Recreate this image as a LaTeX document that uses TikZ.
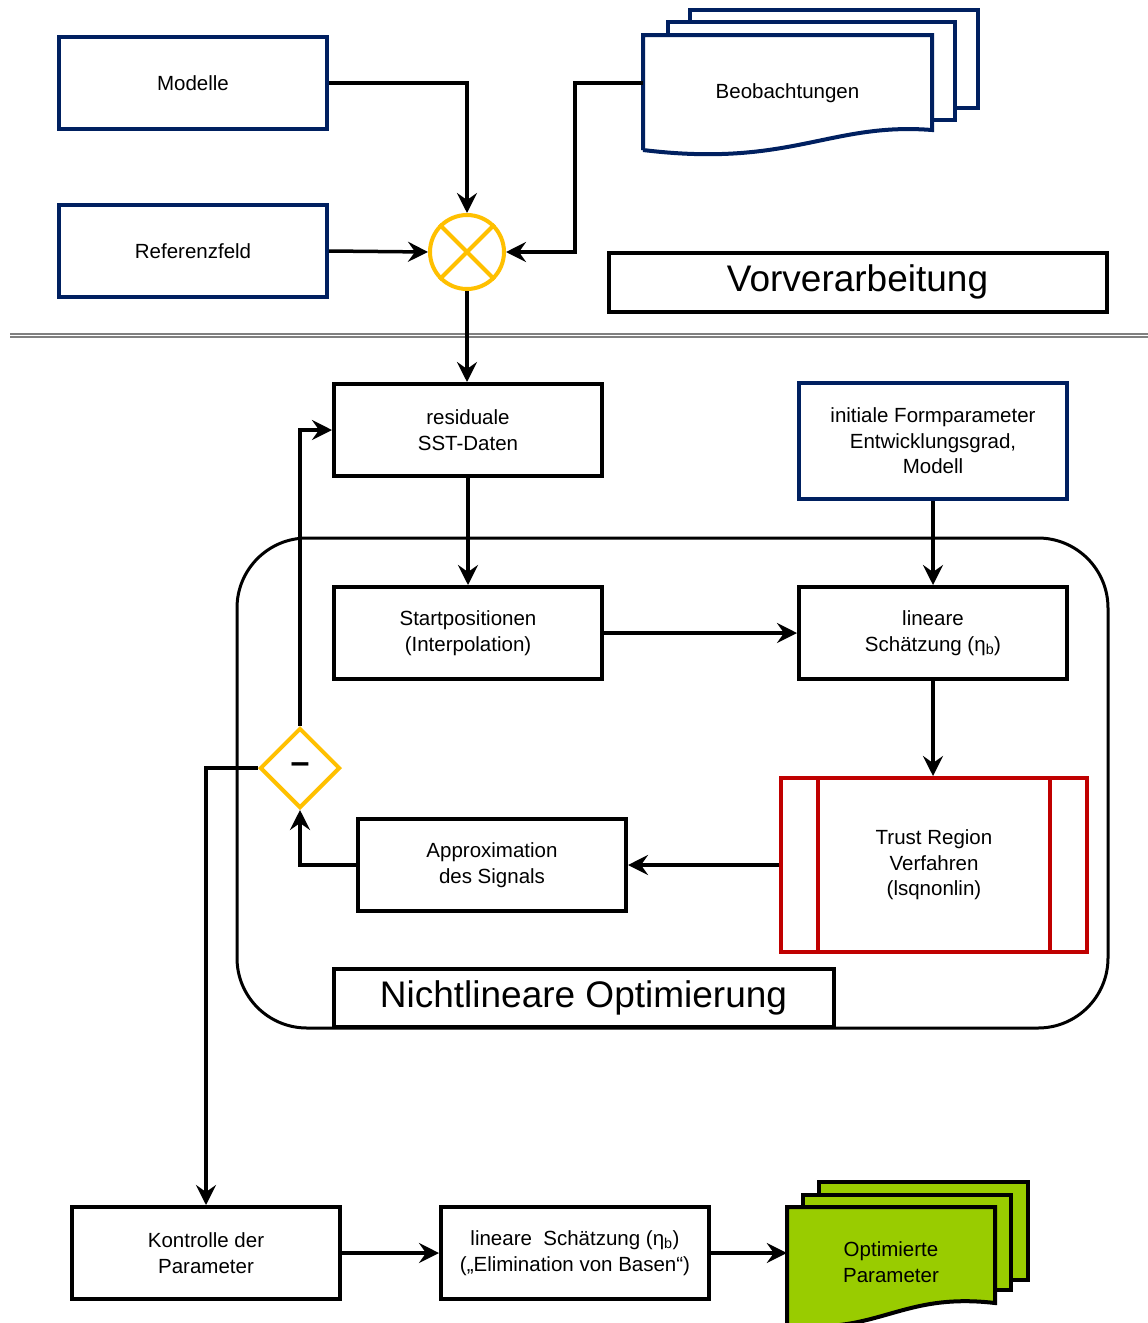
\documentclass[tikz,border=0pt]{standalone}
\usepackage{fontspec}
\setmainfont{Liberation Sans}
\usetikzlibrary{arrows.meta,shapes.geometric}
\definecolor{navy}{RGB}{0,32,96}
\definecolor{ampel}{RGB}{255,192,0}
\definecolor{dunkelrot}{RGB}{192,0,0}
\definecolor{gruen}{RGB}{153,204,0}
\tikzset{
  kasten/.style={draw, line width=4pt, fill=white, minimum width=268pt, minimum height=92pt,
    align=center, font=\fontsize{20.5}{25.5}\selectfont},
  blaukasten/.style={kasten, draw=navy},
  titelkasten/.style={kasten, font=\fontsize{37}{44}\selectfont},
  pfeil/.style={line width=3.5pt, -{Stealth[length=20pt,width=20pt,inset=7pt]}},
}
\begin{document}
\begin{tikzpicture}[x=1pt, y=-1pt]
        \useasboundingbox (0,0) rectangle (1148,1323);
        % Trennlinie und Rahmen
        \draw[gray, line width=1.5pt, double distance=1.2pt] (10,335.5) -- (1148,335.5);
        \draw[line width=3pt, rounded corners=70pt] (237,538) rectangle (1108,1028);
        % Beobachtungen (Stapel)
        \draw[navy, line width=4pt, fill=white] (690,108) -- (690,10) -- (978,10) -- (978,108) -- cycle;
        \draw[navy, line width=4pt, fill=white] (668,120) -- (668,22) -- (955,22) -- (955,120) -- cycle;
        \draw[navy, line width=4pt, fill=white] (643,150) -- (643,35) -- (932,35) -- (932,130)
            .. controls (830,122) and (790,168) .. (643,150);
        % Optimierte Parameter (Stapel)
        \draw[line width=4pt, fill=gruen] (819,1280) -- (819,1182) -- (1028,1182) -- (1028,1280) -- cycle;
        \draw[line width=4pt, fill=gruen] (803,1290) -- (803,1195) -- (1011,1195) -- (1011,1290) -- cycle;
        \draw[line width=4pt, fill=gruen] (787,1335) -- (787,1207) -- (995,1207) -- (995,1303)
            .. controls (900,1292) and (880,1335) .. (787,1325);
        % Knoten
        \node[blaukasten] (modelle) at (193,83) {Modelle};
        \node[blaukasten] (ref) at (193,251) {Referenzfeld};
        \node[align=center, minimum width=289pt, minimum height=100pt, font=\fontsize{20.5}{25.5}\selectfont]
            (beob) at (787.5,93) {Beobachtungen};
        \node[circle, draw=ampel, line width=4pt, fill=white, minimum size=74pt] (mix) at (467,252) {};
        \draw[ampel, line width=4pt] (mix.north west) -- (mix.south east) (mix.north east) -- (mix.south west);
        \node[titelkasten, minimum width=498pt, minimum height=59pt] (vorv) at (857.5,282) {Vorverarbeitung};
        \node[kasten] (resid) at (468,430) {residuale\\SST-Daten};
        \node[blaukasten, minimum height=116pt] (init) at (933,441) {initiale Formparameter\\Entwicklungsgrad,\\Modell};
        \node[kasten] (start) at (468,633) {Startpositionen\\(Interpolation)};
        \node[kasten] (lin) at (933,633) {lineare\\Schätzung (η\textsubscript{b})};
        \node[kasten, draw=dunkelrot, minimum width=306pt, minimum height=174pt]
            (trust) at (934,865) {Trust Region\\Verfahren\\(lsqnonlin)};
        \draw[dunkelrot, line width=4pt] ([xshift=39pt]trust.north west) -- ([xshift=39pt]trust.south west)
            ([xshift=-39pt]trust.north east) -- ([xshift=-39pt]trust.south east);
        \node[kasten] (approx) at (492,865) {Approximation\\des Signals};
        \node[diamond, draw=ampel, line width=4pt, fill=white, minimum size=80pt, inner sep=0pt,
            font=\fontsize{34}{34}\selectfont\bfseries] (diff) at (300,768) {–};
        \node[titelkasten, minimum width=500pt, minimum height=58pt] (nlopt) at (583.5,998) {Nichtlineare Optimierung};
        \node[kasten] (kontr) at (206,1253) {Kontrolle der\\Parameter};
        \node[kasten] (elim) at (575,1253) {lineare\ \ Schätzung (η\textsubscript{b})\\(„Elimination von Basen“)};
        \node[align=center, minimum width=208pt, minimum height=96pt, font=\fontsize{20.5}{25.5}\selectfont]
            (opt) at (891,1262) {Optimierte\\Parameter};
        % Verbindungen
        \draw[pfeil] (modelle.east) -| (mix.north);
        \draw[pfeil] (ref.east) -- (mix.west);
        \draw[pfeil] (beob.west |- modelle.east) -- ++(-68,0) |- (mix.east);
        \draw[pfeil] (mix.south) -- (mix.south |- resid.north);
        \draw[pfeil] (resid.south) -- (start.north);
        \draw[pfeil] (init.south) -- (lin.north);
        \draw[pfeil] (start.east) -- (lin.west);
        \draw[pfeil] (lin.south) -- (lin.south |- trust.north);
        \draw[pfeil] (trust.west) -- (approx.east);
        \draw[pfeil] (approx.west) -| (diff.south);
        \draw[pfeil] (diff.north) |- (resid.west);
        \draw[pfeil] (diff.west) -| (kontr.north);
        \draw[pfeil] (kontr.east) -- (elim.west);
        \draw[pfeil] (elim.east) -- (elim.east -| opt.west);
    \end{tikzpicture}
\end{document}
